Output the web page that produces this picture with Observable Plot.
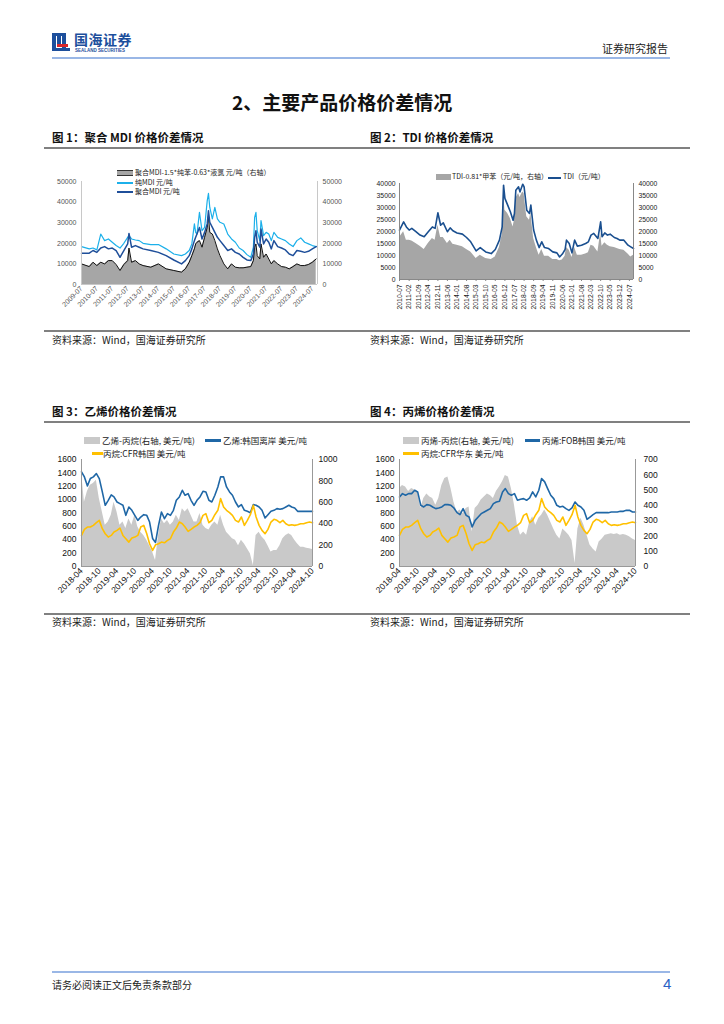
<!DOCTYPE html>
<html><head><meta charset="utf-8">
<script src="https://cdn.jsdelivr.net/npm/d3@7"></script>
<script src="https://cdn.jsdelivr.net/npm/@observablehq/plot@0.6"></script>
<style>
body{margin:0;background:#fff;font-family:"Liberation Sans","Noto Sans CJK SC",sans-serif;}
#page{position:relative;width:724px;height:1024px;overflow:hidden;background:#fff;}
.a{position:absolute;white-space:nowrap;line-height:1;}
.cjk{font-family:"Noto Sans CJK SC","Liberation Sans",sans-serif;}
.cap{font-size:11.5px;font-weight:bold;color:#111;}
.src{font-size:10px;color:#222;}
.lg{font-size:7px;color:#222;font-family:"Noto Sans CJK SC",sans-serif;}
.lg2{font-size:8.5px;color:#222;font-family:"Noto Sans CJK SC",sans-serif;}
.sw{position:absolute;}
</style></head>
<body><div id="page"></div>
<script>
// ---------------- Figure 1: MDI ----------------
const mdiDates = ["2009-07","2010-01","2010-04","2010-07","2010-10","2011-01","2011-04","2011-07","2011-10","2012-01","2012-04","2012-07","2012-08","2012-10","2013-01","2013-04","2013-07","2014-01","2014-07","2015-01","2015-07","2016-01","2016-04","2016-07","2016-09","2016-11","2016-12","2017-01","2017-03","2017-05","2017-07","2017-09","2017-10","2017-11","2018-01","2018-03","2018-05","2018-07","2018-10","2019-01","2019-04","2019-07","2019-10","2020-01","2020-04","2020-07","2020-09","2020-10","2020-11","2020-12","2021-02","2021-03","2021-05","2021-07","2021-09","2021-11","2022-01","2022-04","2022-07","2022-10","2023-01","2023-04","2023-07","2023-10","2024-01","2024-04","2024-07","2024-10"];
const pureMdi = [18400,17300,17700,16800,24500,21300,22100,20500,18900,17700,20000,22900,23700,22100,21600,21300,20000,19400,19400,17300,14800,14000,14800,16500,19700,29400,25300,24500,35000,26100,27700,40600,44200,37400,31800,37400,31800,30200,29400,24500,22100,20500,17700,16500,14500,13200,18100,32600,35000,26100,21300,31000,23700,25300,24500,21300,25300,22900,22100,21300,19700,18400,21300,22600,20500,19700,18900,18400];
const polyMdi = [15200,15200,16500,15600,17700,18400,17300,17700,16500,13200,16500,19700,24800,18100,18900,18100,17300,16500,15600,14000,11900,10000,11600,14000,17300,21300,22900,24500,27700,22100,25300,29400,35800,30200,27700,25300,22900,21300,18900,16500,17300,15600,14800,13200,11900,11600,14800,22900,26100,20500,18100,26900,19700,22100,20500,17300,21300,18400,17700,16800,14800,14000,16500,16100,15600,16100,17300,18400];
const mdiSpread = [10000,8700,10800,9200,10800,10000,11600,11600,9700,6800,9700,11600,17700,10800,11600,10000,9200,8400,10000,7600,6800,6000,7600,10800,14000,17300,19700,20500,21300,18100,22900,27700,33400,25300,24500,21300,17300,14000,10000,7600,10000,8400,8100,8100,8400,8700,11600,18100,19700,14000,12400,19700,13200,14800,12400,10000,11600,10000,8700,8400,7600,8700,10000,9200,9200,9700,10800,12400];
const mdiTicks = ["2009-07","2010-07","2011-07","2012-07","2013-07","2014-07","2015-07","2016-07","2017-07","2018-07","2019-07","2020-07","2021-07","2022-07","2023-07","2024-07"];
const mdiYTicks = [0,10000,20000,30000,40000,50000];

// ---------------- Figure 2: TDI ----------------
const tdiDates = ["2010-07","2010-10","2010-12","2011-02","2011-04","2011-07","2011-10","2012-01","2012-04","2012-07","2012-09","2012-11","2013-01","2013-03","2013-06","2013-08","2013-10","2014-01","2014-05","2014-08","2014-11","2015-03","2015-06","2015-10","2016-02","2016-05","2016-08","2016-10","2016-11","2016-12","2017-02","2017-04","2017-06","2017-07","2017-08","2017-10","2017-11","2018-01","2018-02","2018-04","2018-06","2018-07","2018-09","2018-11","2019-01","2019-03","2019-05","2019-08","2019-11","2020-02","2020-04","2020-06","2020-08","2020-09","2020-11","2021-01","2021-03","2021-05","2021-08","2021-11","2022-01","2022-03","2022-05","2022-08","2022-10","2022-11","2023-01","2023-03","2023-05","2023-08","2023-10","2023-12","2024-03","2024-06","2024-08","2024-10"];
const tdiPrice = [20600,24000,21900,20600,21300,19900,18500,17800,19900,21900,21300,27800,22600,23600,19900,21500,20300,19400,18900,17500,15700,11900,13300,11500,10800,12500,16400,21900,39300,33800,31000,28200,24700,27500,37200,38600,36500,39700,38600,28900,27500,31000,20600,16400,13300,15700,13300,12900,11500,11100,9400,10600,12500,16400,15000,11100,16400,13900,14300,15000,15700,18500,19200,17100,24000,17800,19400,18500,18900,17500,17100,16400,16400,14300,13600,12900];
const tdiSpread = [17500,19900,16400,16400,16000,15000,13900,12500,15000,17100,16400,22600,17500,17500,15000,16400,14700,14300,13600,12500,11500,8800,10100,8800,8300,9400,13300,18500,36500,28900,27500,25400,21900,24700,33800,35800,34200,36500,35800,26100,24700,27800,17100,13300,10100,12500,9700,9700,8300,8300,7800,8100,9700,13300,12200,9200,13300,10100,10100,10600,11100,14300,13900,11500,19400,13900,15300,14300,13600,13300,12900,12500,12200,10600,9400,10100];
const tdiTicks = ["2010-07","2011-02","2011-09","2012-04","2012-11","2013-06","2014-01","2014-08","2015-03","2015-10","2016-05","2016-12","2017-07","2018-02","2018-09","2019-04","2019-11","2020-06","2021-01","2021-08","2022-03","2022-10","2023-05","2023-12","2024-07"];
const tdiYTicks = [0,5000,10000,15000,20000,25000,30000,35000,40000];

// ---------------- Figures 3 & 4: monthly 2018-04 .. 2024-10 ----------------
const olefinMonths = ["2018-04","2018-05","2018-06","2018-07","2018-08","2018-09","2018-10","2018-11","2018-12",
"2019-01","2019-02","2019-03","2019-04","2019-05","2019-06","2019-07","2019-08","2019-09","2019-10","2019-11","2019-12",
"2020-01","2020-02","2020-03","2020-04","2020-05","2020-06","2020-07","2020-08","2020-09","2020-10","2020-11","2020-12",
"2021-01","2021-02","2021-03","2021-04","2021-05","2021-06","2021-07","2021-08","2021-09","2021-10","2021-11","2021-12",
"2022-01","2022-02","2022-03","2022-04","2022-05","2022-06","2022-07","2022-08","2022-09","2022-10","2022-11","2022-12",
"2023-01","2023-02","2023-03","2023-04","2023-05","2023-06","2023-07","2023-08","2023-09","2023-10","2023-11","2023-12",
"2024-01","2024-02","2024-03","2024-04","2024-05","2024-06","2024-07","2024-08","2024-09","2024-10"];
const ethylene = [1415,1340,1205,1315,1340,1390,1315,1115,915,
990,1070,1040,965,940,915,765,890,840,765,690,740,
775,765,665,420,360,615,815,715,790,765,840,990,
1040,1140,1065,1090,990,915,990,1040,1125,1115,990,965,
1065,1190,1340,1340,1190,1115,1065,965,890,925,840,825,
805,925,915,890,840,725,775,825,840,865,855,865,
890,915,890,875,825,825,825,825,825,825];
const propane = [465,555,590,590,615,655,690,565,490,
440,465,515,540,575,465,415,365,425,440,465,590,
615,490,340,240,325,340,365,355,390,415,515,575,
665,640,590,525,555,590,615,655,765,790,655,690,
775,840,1015,890,840,805,765,690,665,740,615,690,
775,915,740,615,540,490,555,665,705,690,655,690,
640,615,625,615,625,640,640,655,665,655];
const ethSpread = [885,600,700,760,775,805,635,510,385,
415,480,600,510,385,415,355,445,385,480,370,320,
290,245,195,135,55,290,445,400,430,385,415,480,
430,540,510,540,480,415,415,495,385,355,340,385,
415,385,480,385,320,290,260,245,195,245,210,165,
120,10,290,320,275,245,195,135,150,150,195,260,
290,305,290,245,210,180,180,170,165,160];
const propylene = [1040,1090,1065,1090,1090,1140,1115,915,890,
925,915,890,865,875,890,925,925,915,875,805,775,
865,765,740,590,690,740,790,815,840,865,940,965,
975,1115,1165,1090,1065,1090,990,1005,1015,990,1025,1115,
1040,1140,1315,1265,1165,1065,1015,915,890,900,865,840,
875,965,915,890,840,705,740,775,805,805,805,805,
805,815,815,815,825,825,840,840,815,815];
const proSpread = [510,530,520,490,510,500,490,380,445,
475,455,445,400,445,530,575,585,510,420,355,370,
345,380,390,225,380,400,435,455,475,465,445,490,
520,555,595,585,510,400,270,205,225,205,290,325,
270,315,335,370,335,290,245,205,180,245,225,205,
170,20,245,315,270,205,140,115,95,160,180,205,
210,215,210,215,205,210,205,195,180,170];
const olefinTicks = ["2018-04","2018-10","2019-04","2019-10","2020-04","2020-10","2021-04","2021-10","2022-04","2022-10","2023-04","2023-10","2024-04","2024-10"];
const leftTicks34 = [0,200,400,600,800,1000,1200,1400,1600];
const rightTicks3 = [0,200,400,600,800,1000];
const rightTicks4 = [0,100,200,300,400,500,600,700];

// ---------------- helpers ----------------
const P = d3.utcParse("%Y-%m");
const fmtYM = d3.utcFormat("%Y-%m");
const fmtInt = d3.format("d");
const page = document.getElementById("page");
function el(html, left, top, cls, extra) {
  const d = document.createElement("div");
  d.className = "a " + (cls || "");
  d.style.left = left + "px"; d.style.top = top + "px";
  if (extra) Object.assign(d.style, extra);
  d.innerHTML = html;
  page.appendChild(d);
  return d;
}
function box(left, top, w, h, color) {
  return el("", left, top, "sw", {width: w + "px", height: h + "px", background: color});
}
function place(svg, left, top) {
  const d = document.createElement("div");
  d.style.position = "absolute"; d.style.left = left + "px"; d.style.top = top + "px";
  d.appendChild(svg); page.appendChild(d);
}

// ---------------- page chrome ----------------
box(52, 33, 4, 18, "#1d4f9c"); box(57, 33, 4, 13, "#1d4f9c"); box(62, 33, 4, 18, "#1d4f9c");
box(52, 33, 14, 3, "#1d4f9c"); box(57, 44, 11, 3, "#d7262a"); box(52, 48, 18, 3, "#1d4f9c");
el("国海证券", 74, 32, "cjk", {fontSize: "14px", fontWeight: "bold", color: "#1d4f9c", letterSpacing: "0.5px"});
el("SEALAND SECURITIES", 75, 49, "", {fontSize: "4.5px", color: "#1d4f9c", fontWeight: "bold"});
el("证券研究报告", 602, 43, "cjk", {fontSize: "11px", color: "#222"});
box(52, 57, 618, 2, "#9ab7e6");
el("2、主要产品价格价差情况", 232, 92, "cjk", {fontSize: "19px", fontWeight: "bold", color: "#111"});

el("图 1：聚合 MDI 价格价差情况", 52, 132, "cjk cap");
el("图 2：TDI 价格价差情况", 370, 132, "cjk cap");
box(44, 147, 646, 1.5, "#808080");
box(44, 330, 646, 1.5, "#808080");
el("资料来源：Wind，国海证券研究所", 52, 335, "cjk src");
el("资料来源：Wind，国海证券研究所", 370, 335, "cjk src");

el("图 3：乙烯价格价差情况", 52, 406, "cjk cap");
el("图 4：丙烯价格价差情况", 370, 406, "cjk cap");
box(44, 421, 646, 1.5, "#808080");
box(44, 613, 646, 1.5, "#808080");
el("资料来源：Wind，国海证券研究所", 52, 617, "cjk src");
el("资料来源：Wind，国海证券研究所", 370, 617, "cjk src");

box(52, 971, 618, 2, "#9ab7e6");
el("请务必阅读正文后免责条款部分", 52, 980, "cjk", {fontSize: "10px", color: "#222"});
el("4", 663, 976, "", {fontSize: "15px", color: "#2a62c5"});

const axisStyle = {fontFamily: "'Liberation Sans', Arial, sans-serif", background: "transparent", overflow: "visible"};

// ---------------- Chart 1 ----------------
{
  const data = mdiDates.map((d, i) => ({date: P(d), pure: pureMdi[i], poly: polyMdi[i], spread: mdiSpread[i]}));
  const x0 = P("2009-07"), x1 = P("2024-11");
  const svg = Plot.plot({
    width: 310, height: 165,
    marginLeft: 36, marginRight: 38, marginTop: 16, marginBottom: 46,
    style: {...axisStyle, fontSize: "7px", color: "#555"},
    x: {type: "utc", domain: [x0, x1]},
    y: {domain: [0, 50000]},
    marks: [
      Plot.areaY(data, {x: "date", y: "spread", fill: "#a6a6a6"}),
      Plot.lineY(data, {x: "date", y: "spread", stroke: "#111", strokeWidth: 1}),
      Plot.lineY(data, {x: "date", y: "pure", stroke: "#1cb0ea", strokeWidth: 1.2}),
      Plot.lineY(data, {x: "date", y: "poly", stroke: "#1f4f9a", strokeWidth: 1.5}),
      Plot.ruleX([x0, x1], {stroke: "#c8c8c8"}),
      Plot.ruleY([0], {stroke: "#c8c8c8"}),
      Plot.axisY(mdiYTicks, {anchor: "left", tickSize: 0, tickPadding: 5, tickFormat: fmtInt, label: null}),
      Plot.axisY(mdiYTicks, {anchor: "right", tickSize: 0, tickPadding: 5, tickFormat: fmtInt, label: null}),
      Plot.axisX(mdiTicks.map(P), {tickRotate: -45, tickSize: 0, tickPadding: 3, tickFormat: fmtYM, label: null})
    ]
  });
  place(svg, 45, 165);
  box(117, 171, 16, 4, "#a6a6a6"); box(117, 170, 16, 1, "#333"); box(117, 175, 16, 1, "#333");
  el("聚合MDI-1.5*纯苯-0.63*液氯 元/吨（右轴）", 135, 169, "lg");
  box(117, 182, 16, 1.5, "#1cb0ea");
  el("纯MDI 元/吨", 135, 178.5, "lg");
  box(117, 191, 16, 2, "#1f4f9a");
  el("聚合MDI 元/吨", 135, 188, "lg");
}

// ---------------- Chart 2 ----------------
{
  const data = tdiDates.map((d, i) => ({date: P(d), price: tdiPrice[i], spread: tdiSpread[i]}));
  const x0 = P("2010-07"), x1 = P("2024-10");
  const svg = Plot.plot({
    width: 325, height: 165,
    marginLeft: 34, marginRight: 57, marginTop: 18, marginBottom: 51,
    style: {...axisStyle, fontSize: "6.8px", color: "#222"},
    x: {type: "utc", domain: [x0, x1]},
    y: {domain: [0, 40000]},
    marks: [
      Plot.areaY(data, {x: "date", y: "spread", fill: "#a6a6a6"}),
      Plot.lineY(data, {x: "date", y: "price", stroke: "#1a4f8f", strokeWidth: 1.6}),
      Plot.ruleX([x0, x1], {stroke: "#888"}),
      Plot.ruleY([0], {stroke: "#888"}),
      Plot.axisY(tdiYTicks, {anchor: "left", tickSize: 0, tickPadding: 4, tickFormat: fmtInt, label: null}),
      Plot.axisY(tdiYTicks, {anchor: "right", tickSize: 0, tickPadding: 5, tickFormat: fmtInt, label: null}),
      Plot.axisX(tdiTicks.map(P), {tickRotate: -90, tickSize: 2, tickPadding: 3, tickFormat: fmtYM, label: null, stroke: "#888"})
    ]
  });
  place(svg, 365, 165);
  box(436, 174, 15, 6, "#a6a6a6");
  el("TDI-0.81*甲苯（元/吨，右轴）", 452, 173, "lg");
  box(548, 176.5, 13, 2, "#1a4f8f");
  el("TDI（元/吨）", 563, 173, "lg");
}

// ---------------- Charts 3 & 4 ----------------
function olefinData(priceArr, spreadArr, rightMax) {
  const k = 1600 / rightMax;
  const data = olefinMonths.map((d, i) => ({date: P(d), price: priceArr[i], propane: propane[i], spread: spreadArr[i] * k}));
  return {data, k, x0: P("2018-04"), x1: P("2024-10")};
}
function olefinPlot(o, rightTicks, width, marginLeft, marginRight, rightPad) {
  return Plot.plot({
    width, height: 180,
    marginLeft, marginRight, marginTop: 29, marginBottom: 44,
    style: {...axisStyle, fontSize: "8.5px", color: "#111"},
    x: {type: "utc", domain: [o.x0, o.x1]},
    y: {domain: [0, 1600]},
    marks: [
      Plot.areaY(o.data, {x: "date", y: "spread", fill: "#c9c9c9"}),
      Plot.lineY(o.data, {x: "date", y: "price", stroke: "#1f67a6", strokeWidth: 1.6}),
      Plot.lineY(o.data, {x: "date", y: "propane", stroke: "#ffc000", strokeWidth: 1.6}),
      Plot.ruleX([o.x0, o.x1], {stroke: "#999"}),
      Plot.ruleY([0], {stroke: "#999"}),
      Plot.axisY(leftTicks34, {anchor: "left", tickSize: 0, tickPadding: 5, tickFormat: fmtInt, label: null}),
      Plot.axisY(rightTicks.map(v => v * o.k), {anchor: "right", tickSize: 0, tickPadding: rightPad, tickFormat: v => fmtInt(Math.round(v / o.k)), label: null}),
      Plot.axisX(olefinTicks.map(P), {tickRotate: -45, tickSize: 0, tickPadding: 3, tickFormat: fmtYM, label: null})
    ]
  });
}
{
  const o = olefinData(ethylene, ethSpread, 1000);
  place(olefinPlot(o, rightTicks3, 310, 36, 43, 6), 45, 430);
  box(84, 437, 16, 7, "#c9c9c9");
  el("乙烯-丙烷(右轴, 美元/吨)", 102, 436, "lg2");
  box(205, 439, 16, 2.5, "#1f67a6");
  el("乙烯:韩国离岸 美元/吨", 223, 436, "lg2");
  box(92, 452, 11, 2.5, "#ffc000");
  el("丙烷:CFR韩国 美元/吨", 103, 449, "lg2");
}
{
  const o = olefinData(propylene, proSpread, 700);
  place(olefinPlot(o, rightTicks4, 325, 34, 55, 8), 365, 430);
  box(403, 437, 16, 7, "#c9c9c9");
  el("丙烯-丙烷(右轴, 美元/吨)", 421, 436, "lg2");
  box(525, 439, 15, 2.5, "#1f67a6");
  el("丙烯:FOB韩国 美元/吨", 542, 436, "lg2");
  box(403, 452, 16, 2.5, "#ffc000");
  el("丙烷:CFR华东 美元/吨", 421, 449, "lg2");
}
</script>
</body></html>
